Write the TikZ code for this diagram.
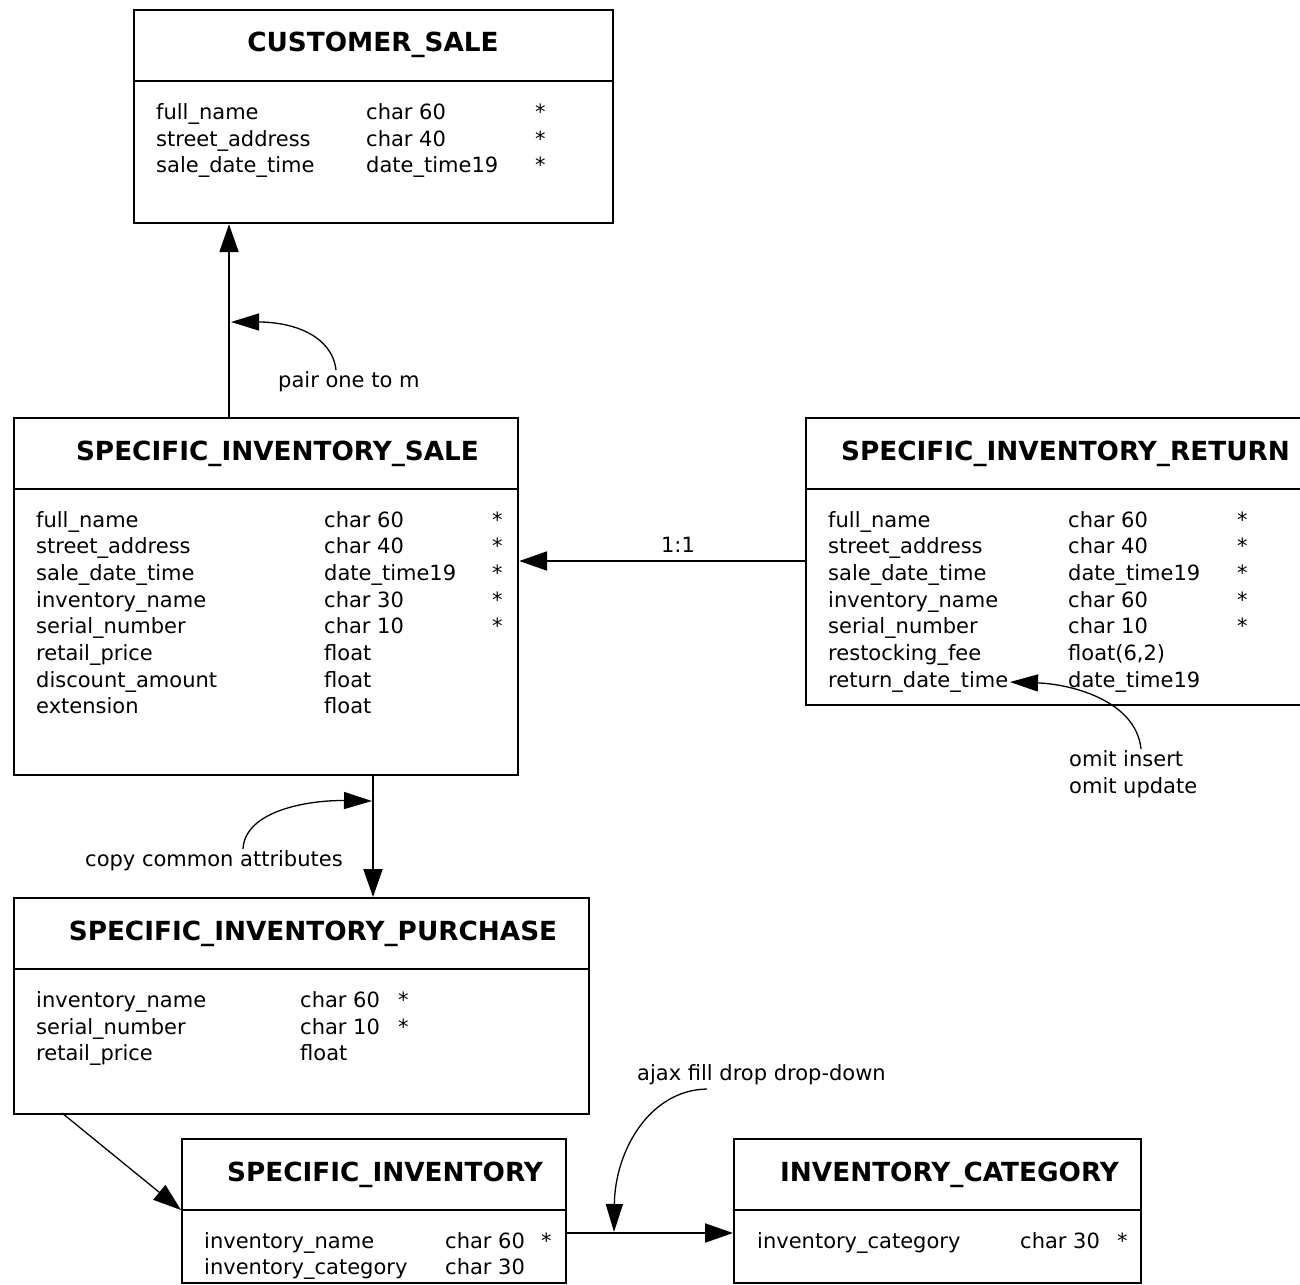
\documentclass[tikz,border=0pt]{standalone}
\usepackage{fontspec}
\setmainfont{DejaVu Sans}
\usetikzlibrary{arrows.meta,calc}
\newcommand\erows[6]{\foreach \n/\t/\s [count=\i] in {#6} {
 \node[cell] (#1n\i) at (#2, {#5+(\i-1)*26.7}) {\n};
 \node[cell] (#1t\i) at (#3, {#5+(\i-1)*26.7}) {\t};
 \node[cell] (#1s\i) at (#4, {#5+(\i-1)*26.7}) {\s};}}
\begin{document}
\begin{tikzpicture}[x=1pt,y=-1pt,
 box/.style={draw,line width=2.2pt,inner sep=0,anchor=north west},
 divline/.style={line width=2.2pt},
 ttl/.style={font=\fontsize{26.3}{30}\selectfont\bfseries,anchor=base,inner sep=0},
 cell/.style={font=\fontsize{21}{26}\selectfont,anchor=base west,inner sep=0},
 lbl/.style={font=\fontsize{21}{26}\selectfont,inner sep=0},
 conn/.style={line width=2.2pt,-{Triangle[length=28pt,width=19pt]}},
 thinconn/.style={line width=1.3pt,-{Triangle[length=28pt,width=19pt]}},
 note/.style={line width=1.3pt,-{Triangle[length=28pt,width=17pt]}},
]
\useasboundingbox (0,0) rectangle (1300,1284);

% boxes
\node[box,minimum width=479pt,minimum height=213pt] (cs) at (133,9) {};
\node[box,minimum width=504pt,minimum height=357pt] (sis) at (13,417) {};
\node[box,minimum width=500pt,minimum height=287pt] (sir) at (805,417) {};
\node[box,minimum width=575pt,minimum height=216pt] (sip) at (13,897) {};
\node[box,minimum width=384pt,minimum height=144pt] (si) at (181,1138) {};
\node[box,minimum width=407pt,minimum height=144pt] (ic) at (733,1138) {};

% dividers
\draw[divline] (133,81) -- (612,81);
\draw[divline] (13,489) -- (517,489);
\draw[divline] (805,489) -- (1305,489);
\draw[divline] (13,969) -- (588,969);
\draw[divline] (181,1210) -- (565,1210);
\draw[divline] (733,1210) -- (1140,1210);

% titles
\node[ttl] (cst) at (373,52) {CUSTOMER\_SALE};
\node[ttl] (sist) at (277.5,460) {SPECIFIC\_INVENTORY\_SALE};
\node[ttl,anchor=base west] (sirt) at (841,460) {SPECIFIC\_INVENTORY\_RETURN};
\node[ttl] (sipt) at (313,940) {SPECIFIC\_INVENTORY\_PURCHASE};
\node[ttl] (sit) at (385,1181) {SPECIFIC\_INVENTORY};
\node[ttl] (ict) at (949.5,1181) {INVENTORY\_CATEGORY};

% rows
\erows{cs}{156}{366}{535}{119.5}{full\_name/char 60/*, street\_address/char 40/*, sale\_date\_time/date\_time19/*}
\erows{sis}{36}{324}{492}{527}{full\_name/char 60/*, street\_address/char 40/*, sale\_date\_time/date\_time19/*, inventory\_name/char 30/*, serial\_number/char 10/*, retail\_price/float/{}, discount\_amount/float/{}, extension/float/{}}
\erows{sir}{828}{1068}{1237}{527}{full\_name/char 60/*, street\_address/char 40/*, sale\_date\_time/date\_time19/*, inventory\_name/char 60/*, serial\_number/char 10/*, restocking\_fee/float(6{,}2)/{}, return\_date\_time/date\_time19/{}}
\erows{sip}{36}{300}{398}{1007.5}{inventory\_name/char 60/*, serial\_number/char 10/*, retail\_price/float/{}}
\erows{si}{204}{445}{541}{1248}{inventory\_name/char 60/*, inventory\_category/char 30/{}}
\erows{ic}{757}{1020}{1117}{1248}{inventory\_category/char 30/*}

% connector anchor coordinates
\coordinate (xa) at (229,0);
\coordinate (xb) at (373,0);
\coordinate (ya) at (0,561);
\coordinate (yb) at (0,1233);
\coordinate (dstart) at (62,1113);

\draw[conn] (sis.north -| xa) -- (cs.south -| xa);
\draw[conn] (sir.west |- ya) -- (sis.east |- ya);
\draw[conn] (sis.south -| xb) -- (sip.north -| xb);
\draw[thinconn] (dstart) -- (si.west |- 0,1210);
\draw[conn] (si.east |- yb) -- (ic.west |- yb);

% labels
\node[lbl,anchor=base west] (l1) at (278,387) {pair one to m};
\node[lbl,anchor=base] (l2) at (678,552) {1:1};
\node[lbl,anchor=base west] (l3a) at (1069,766.7) {omit insert};
\node[lbl,anchor=base west] (l3b) at (1069,793.3) {omit update};
\node[lbl,anchor=base west] (l4) at (85,866.7) {copy common attributes};
\node[lbl,anchor=base west] (l5) at (637,1080) {ajax fill drop drop-down};

% annotation curves
\coordinate (t1) at (231,322);
\coordinate (t3) at (1010,682);
\coordinate (t4) at (372,801);
\coordinate (t5) at (614,1232);
\draw[note] (336,370) .. controls (332,335) and (292,322) .. (t1);
\draw[note] (1141,749) .. controls (1136,700) and (1070,684) .. (t3);
\draw[note] (243,849) .. controls (245,810) and (310,800) .. (t4);
\draw[note] (707,1089) .. controls (650,1090) and (615,1150) .. (t5);
\end{tikzpicture}
\end{document}
